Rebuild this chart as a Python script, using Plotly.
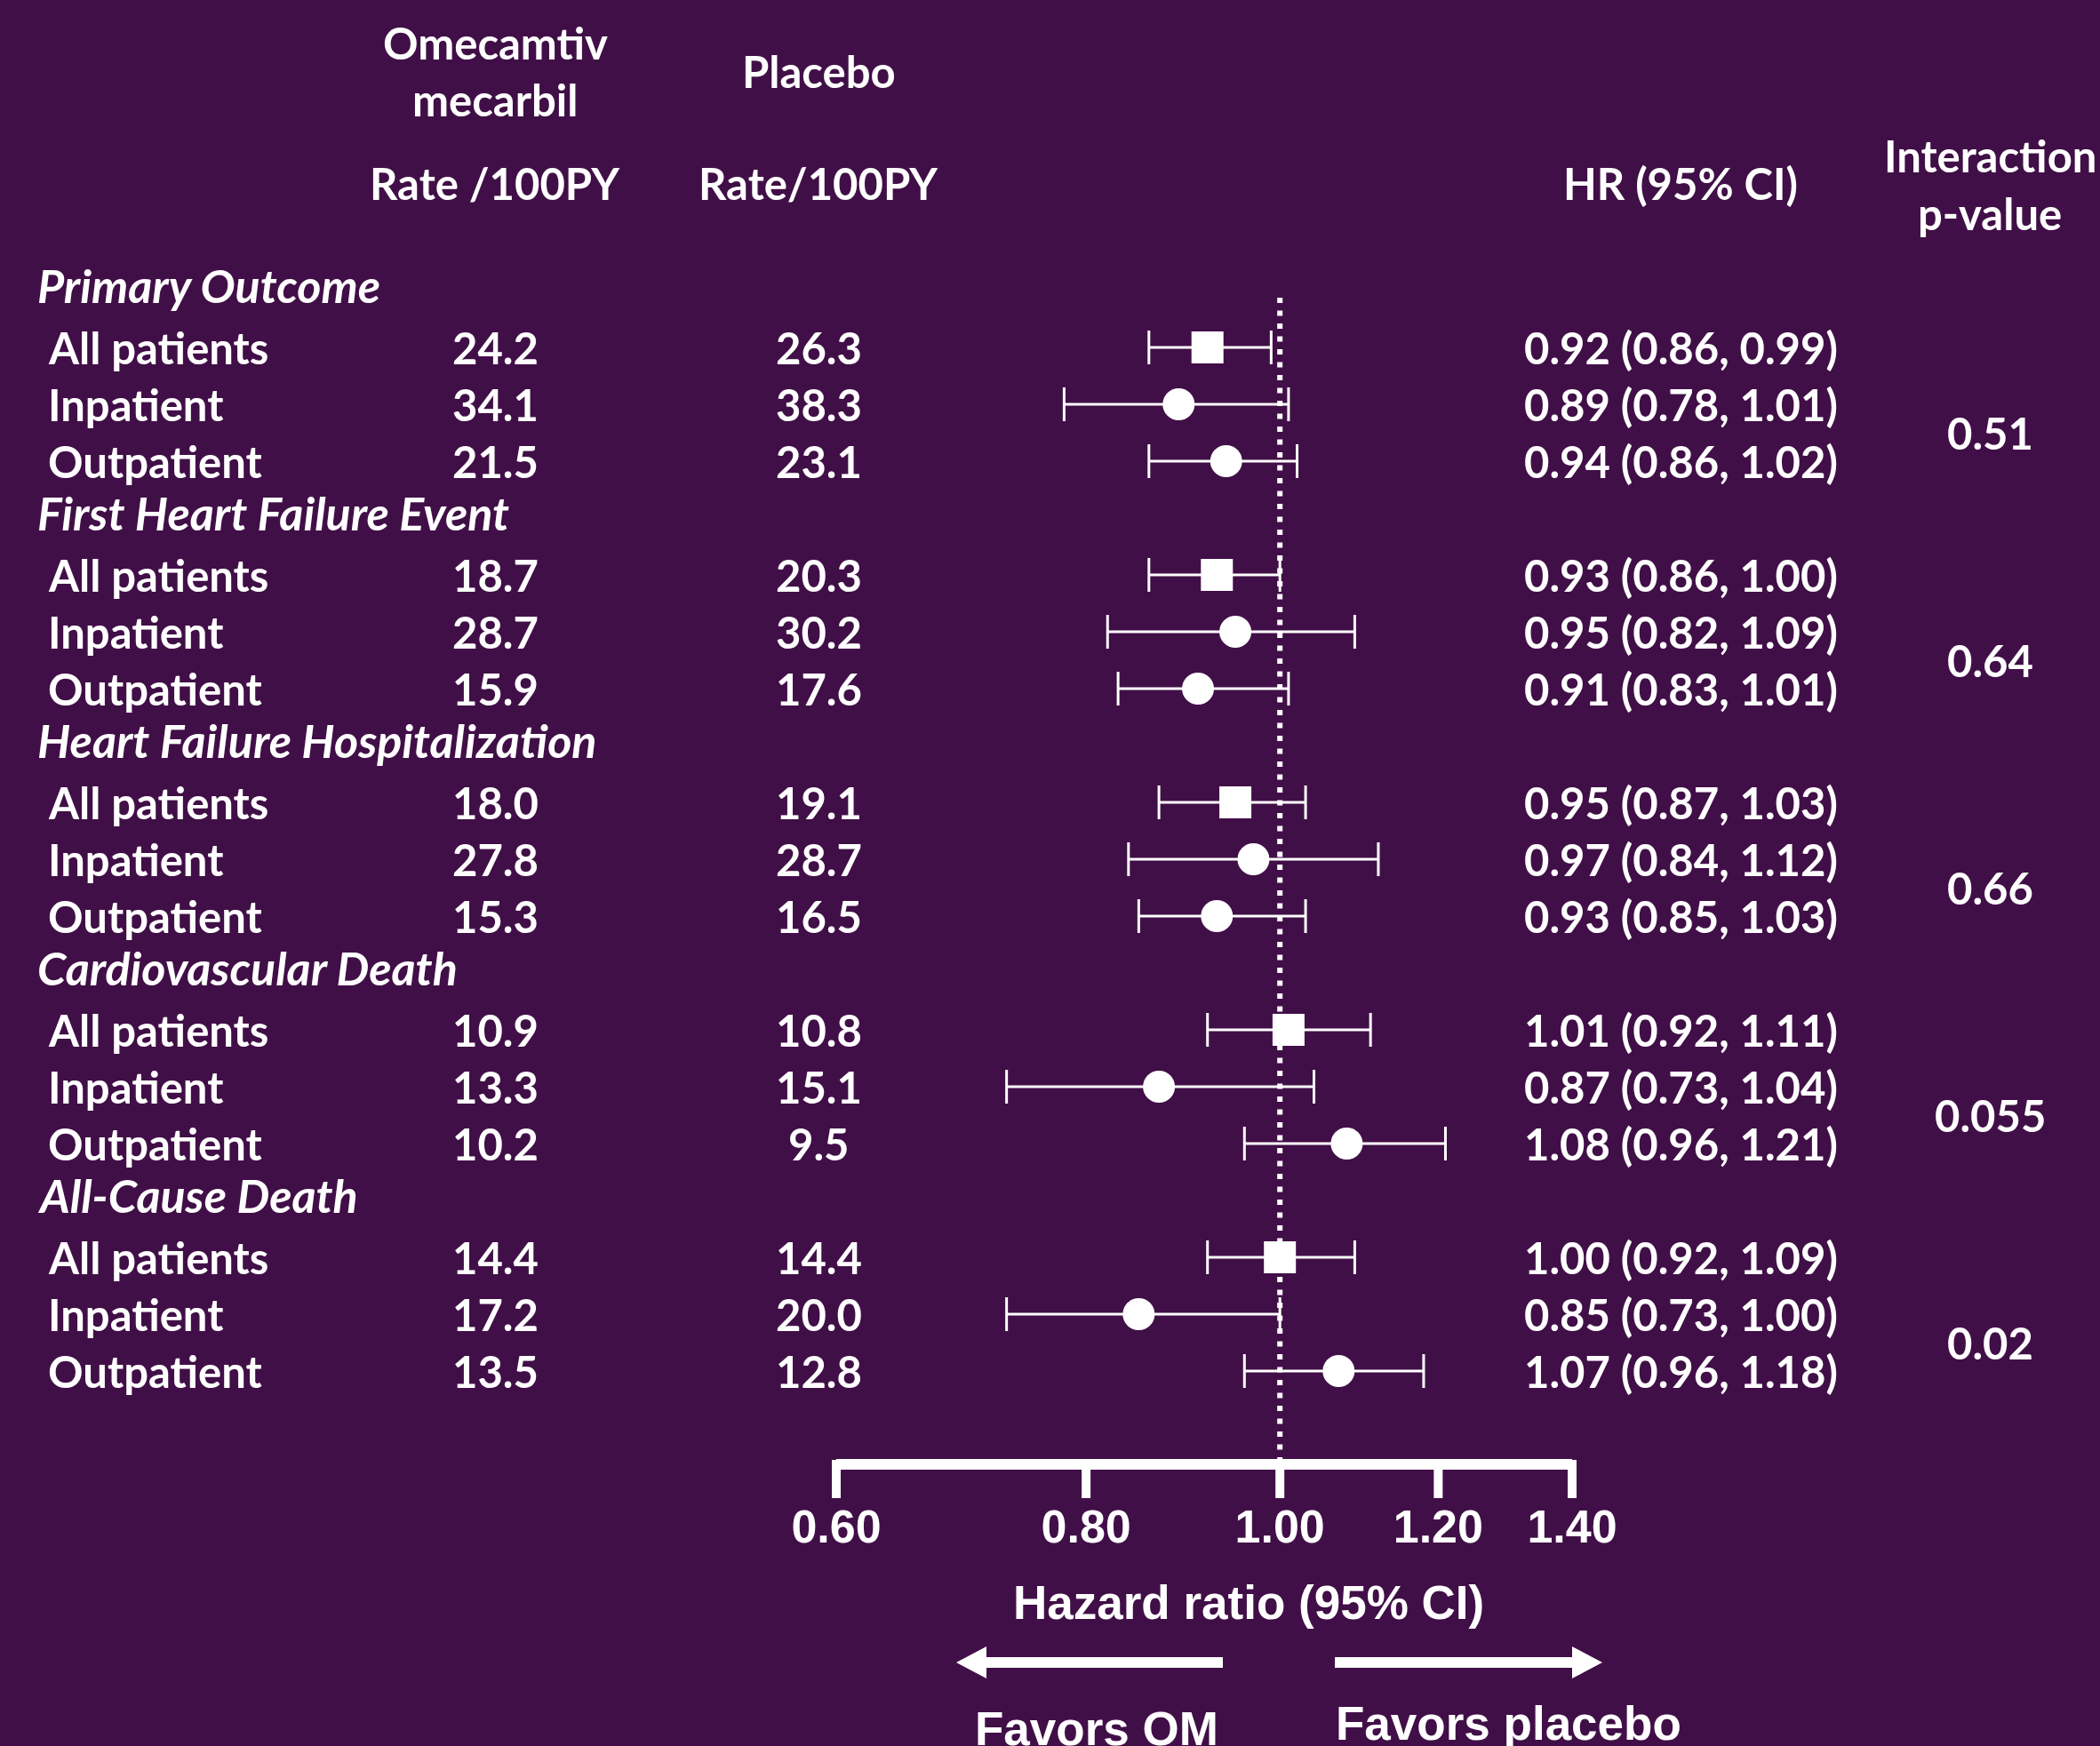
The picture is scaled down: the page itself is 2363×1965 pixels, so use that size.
import math
import plotly.graph_objects as go

# ---------------- data ----------------
outcomes = ["Primary Outcome", "First Heart Failure Event", "Heart Failure Hospitalization",
            "Cardiovascular Death", "All-Cause Death"]
subgroups = ["All patients", "Inpatient", "Outpatient"]

om_rate = [24.2, 34.1, 21.5, 18.7, 28.7, 15.9, 18.0, 27.8, 15.3, 10.9, 13.3, 10.2, 14.4, 17.2, 13.5]
pl_rate = [26.3, 38.3, 23.1, 20.3, 30.2, 17.6, 19.1, 28.7, 16.5, 10.8, 15.1, 9.5, 14.4, 20.0, 12.8]
hr = [0.92, 0.89, 0.94, 0.93, 0.95, 0.91, 0.95, 0.97, 0.93, 1.01, 0.87, 1.08, 1.00, 0.85, 1.07]
hr_lo = [0.86, 0.78, 0.86, 0.86, 0.82, 0.83, 0.87, 0.84, 0.85, 0.92, 0.73, 0.96, 0.92, 0.73, 0.96]
hr_hi = [0.99, 1.01, 1.02, 1.00, 1.09, 1.01, 1.03, 1.12, 1.03, 1.11, 1.04, 1.21, 1.09, 1.00, 1.18]
p_interaction = ["0.51", "0.64", "0.66", "0.055", "0.02"]

tick_vals = [0.60, 0.80, 1.00, 1.20, 1.40]
tick_text = ["0.60", "0.80", "1.00", "1.20", "1.40"]

# ---------------- layout helpers ----------------
W, H = 2363, 1965
BG = "#410f47"
WHITE = "white"
BODY = "Lato"
ARIAL = "Liberation Sans"
FS = 49

ROW0, DY = 327.0, 64.0          # pixel of first row slot, row spacing
def slot(px):                   # pixel -> row-slot units
    return (px - ROW0) / DY

X06, X14 = 941.0, 1769.0
ppd = (X14 - X06) / (math.log10(1.4) - math.log10(0.6))
xr0 = math.log10(0.6) - X06 / ppd
xr1 = xr0 + W / ppd

def px(x):
    return x / W

n_sub = len(subgroups)
data_slots = [4 * g + 1 + r for g in range(len(outcomes)) for r in range(n_sub)]
head_slots = [4 * g for g in range(len(outcomes))]

fig = go.Figure()

# dotted reference line at HR = 1
fig.add_trace(go.Scatter(x=[1.0, 1.0], y=[slot(335), slot(1642)], mode="lines",
                         line=dict(color=WHITE, width=6, dash="6px,8.5px"),
                         hoverinfo="skip", showlegend=False))

# axis line
fig.add_trace(go.Scatter(x=[tick_vals[0], tick_vals[-1]], y=[slot(1648), slot(1648)], mode="lines",
                         line=dict(color=WHITE, width=12), hoverinfo="skip", showlegend=False))
# ticks
tx, ty = [], []
for v in tick_vals:
    tx += [v, v, None]
    ty += [slot(1643), slot(1686), None]
fig.add_trace(go.Scatter(x=tx, y=ty, mode="lines", line=dict(color=WHITE, width=10),
                         hoverinfo="skip", showlegend=False))
# tick labels
fig.add_trace(go.Scatter(x=tick_vals, y=[slot(1723)] * len(tick_vals), mode="text",
                         text=tick_text,
                         textfont=dict(family=ARIAL, size=52, color=WHITE, weight="bold"),
                         textposition="middle center", hoverinfo="skip", showlegend=False))

# hazard ratios with CIs
symbols = ["square" if (i % n_sub) == 0 else "circle" for i in range(len(hr))]
fig.add_trace(go.Scatter(
    x=hr, y=data_slots, mode="markers",
    marker=dict(symbol=symbols, size=36, color=WHITE, line=dict(width=0)),
    error_x=dict(type="data", symmetric=False,
                 array=[h - m for h, m in zip(hr_hi, hr)],
                 arrayminus=[m - l for m, l in zip(hr, hr_lo)],
                 color=WHITE, thickness=3, width=19),
    hoverinfo="skip", showlegend=False))

ann = []
def text(x, y, s, size=FS, family=BODY, xanchor="center", style="normal", weight="bold",
         yref="y", yshift=0):
    ann.append(dict(x=x, y=y, xref="paper", yref=yref, text=s, showarrow=False,
                    xanchor=xanchor, yanchor="middle", yshift=yshift,
                    font=dict(family=family, size=size, color=WHITE, style=style, weight=weight)))

# column headers (pixel positions converted to row slots)
text(px(557), slot(48), "Omecamtiv")
text(px(557), slot(112), "mecarbil")
text(px(921), slot(80), "Placebo")
text(px(557), slot(206), "Rate /100PY")
text(px(921), slot(206), "Rate/100PY")
text(px(1891), slot(206), "HR (95% CI)")
text(px(2239), slot(175), "Interaction")
text(px(2239), slot(240), "p-value")

# group headers
for g, name in enumerate(outcomes):
    text(px(40), head_slots[g], name, xanchor="left", style="italic", size=52, yshift=6)
    mid = (data_slots[3 * g + 1] + data_slots[3 * g + 2]) / 2
    text(px(2239), mid, p_interaction[g])

# rows
for i, s in enumerate(data_slots):
    text(px(52), s, subgroups[i % n_sub], xanchor="left")
    text(px(557), s, f"{om_rate[i]:.1f}")
    text(px(921), s, f"{pl_rate[i]:.1f}")
    text(px(1891), s, f"{hr[i]:.2f} ({hr_lo[i]:.2f}, {hr_hi[i]:.2f})")

# axis title and direction labels
text(px(1405), slot(1803), "Hazard ratio (95% CI)", size=53, family=ARIAL)
text(px(1234), slot(1945), "Favors OM", size=53, family=ARIAL)
text(px(1697), slot(1939), "Favors placebo", size=53, family=ARIAL)

# arrows (paper coordinates)
def arrow_path(x_tail, x_tip, yc, shaft=12, head_len=34, head_h=36):
    d = 1 if x_tip > x_tail else -1
    xb = x_tip - d * head_len
    pts = [(x_tail, yc - shaft / 2), (xb, yc - shaft / 2), (xb, yc - head_h / 2),
           (x_tip, yc), (xb, yc + head_h / 2), (xb, yc + shaft / 2), (x_tail, yc + shaft / 2)]
    pts = [(x / W, 1 - y / H) for x, y in pts]
    return "M " + " L ".join(f"{a:.5f},{b:.5f}" for a, b in pts) + " Z"

shapes = [
    dict(type="path", xref="paper", yref="paper", path=arrow_path(1376, 1076, 1871),
         fillcolor=WHITE, line=dict(width=0)),
    dict(type="path", xref="paper", yref="paper", path=arrow_path(1502, 1803, 1871),
         fillcolor=WHITE, line=dict(width=0)),
]

fig.update_layout(
    width=W, height=H, margin=dict(l=0, r=0, t=0, b=0),
    paper_bgcolor=BG, plot_bgcolor=BG,
    annotations=ann, shapes=shapes, showlegend=False,
    xaxis=dict(type="log", range=[xr0, xr1], domain=[0, 1], visible=False, fixedrange=True),
    yaxis=dict(range=[slot(H), slot(0)], domain=[0, 1], visible=False, fixedrange=True),
)

fig.write_html(
    "out.html",
    config={"displayModeBar": False},
    post_script="document.body.style.margin='0';document.body.style.padding='0';"
                "document.body.style.background='" + BG + "';",
)
